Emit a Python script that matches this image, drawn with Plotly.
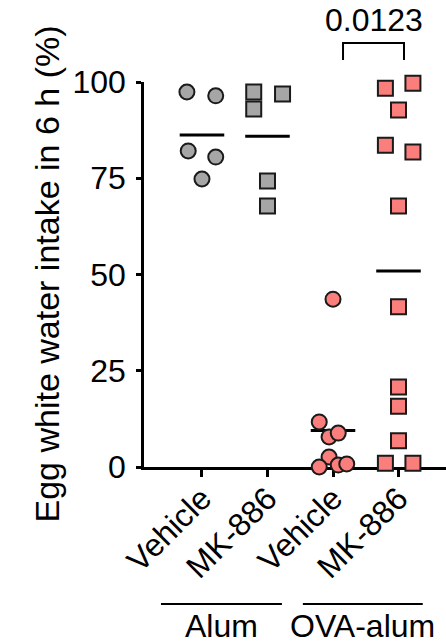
import numpy as np
import plotly.graph_objects as go

# ---- data ----
categories = ["Vehicle", "MK-886", "Vehicle", "MK-886"]
groups = ["Alum", "OVA-alum"]

alum_vehicle = [97.4, 96.4, 82.1, 80.5, 74.8]
alum_vehicle_jitter = [-0.23, 0.21, -0.21, 0.21, 0.0]

alum_mk886 = [97.4, 96.9, 93.0, 74.3, 67.8]
alum_mk886_jitter = [-0.21, 0.23, -0.21, 0.0, 0.0]

ova_vehicle = [43.6, 11.7, 7.8, 8.8, 2.6, 0.0, 0.5, 0.8]
ova_vehicle_jitter = [0.0, -0.21, -0.06, 0.08, -0.06, -0.21, 0.08, 0.21]

ova_mk886 = [98.4, 99.7, 92.7, 83.6, 81.8, 67.8, 41.6, 20.8, 15.8, 6.8, 1.0, 1.0]
ova_mk886_jitter = [-0.2, 0.22, 0.0, -0.2, 0.22, 0.0, 0.0, 0.0, 0.0, 0.0, -0.2, 0.22]

p_value_text = "0.0123"
y_ticks = [0, 25, 50, 75, 100]
y_title = "Egg white water intake in 6 h (%)"

GRAY = "#a6a6a6"
SALMON = "#fa7e7b"
EDGE = "#1a1a1a"
FONT = "Liberation Sans, Arial, Helvetica, sans-serif"
FS = 32
FS_TITLE = 34

series = [
    (alum_vehicle, alum_vehicle_jitter, "circle", GRAY),
    (alum_mk886, alum_mk886_jitter, "square", GRAY),
    (ova_vehicle, ova_vehicle_jitter, "circle", SALMON),
    (ova_mk886, ova_mk886_jitter, "square", SALMON),
]

fig = go.Figure()
half = 0.34
for i, (vals, jit, sym, col) in enumerate(series):
    m = float(np.mean(vals))
    fig.add_trace(go.Scatter(
        x=[i - half, i + half], y=[m, m], mode="lines",
        line=dict(color="black", width=3), showlegend=False,
        hoverinfo="skip", cliponaxis=False))
    fig.add_trace(go.Scatter(
        x=[i + j for j in jit], y=vals, mode="markers",
        marker=dict(symbol=sym, size=15, color=col,
                    line=dict(color=EDGE, width=2)),
        showlegend=False, cliponaxis=False))

fig.update_xaxes(
    tickmode="array", tickvals=list(range(len(categories))),
    ticktext=categories, tickangle=-45,
    range=[-0.885, 3.725], showline=True, linecolor="black", linewidth=3,
    ticks="outside", ticklen=7, tickwidth=3, tickcolor="black",
    showgrid=False, zeroline=False, layer="below traces",
    ticklabelstandoff=-10, automargin=False,
    tickfont=dict(size=FS, family=FONT, color="black"),
)
fig.update_yaxes(
    tickmode="array", tickvals=y_ticks, range=[0, 100],
    showline=True, linecolor="black", linewidth=2.5,
    ticks="outside", ticklen=5, tickwidth=2.5, tickcolor="black",
    showgrid=False, zeroline=False, layer="below traces",
    ticklabelstandoff=4, automargin=False,
    tickfont=dict(size=FS, family=FONT, color="black"),
)

shapes = []
annotations = []
group_spans = [(-0.626, 1.22), (1.54, 3.37)]
for (x0, x1), g in zip(group_spans, groups):
    shapes.append(dict(type="line", xref="x", yref="paper", x0=x0, x1=x1,
                       y0=-0.356, y1=-0.356, line=dict(color="black", width=2)))
    annotations.append(dict(text=g, xref="x", yref="paper", x=(x0 + x1) / 2,
                            y=-0.414, showarrow=False, yanchor="middle",
                            font=dict(size=FS, family=FONT, color="black")))

bx0, bx1 = 2.153, 3.084
shapes.append(dict(type="path", xref="x", yref="paper",
                   path=f"M {bx0},1.057 L {bx0},1.101 L {bx1},1.101 L {bx1},1.057",
                   line=dict(color="black", width=2)))
annotations.append(dict(text=p_value_text, xref="x", yref="paper",
                        x=(bx0 + bx1) / 2, y=1.16, showarrow=False,
                        yanchor="middle",
                        font=dict(size=FS, family=FONT, color="black")))

annotations.append(dict(text=y_title, xref="paper", yref="paper",
                        x=-0.3245, y=0.5, textangle=-90, showarrow=False,
                        xanchor="center", yanchor="middle",
                        font=dict(size=FS_TITLE, family=FONT, color="black")))

fig.update_layout(
    width=446, height=643, autosize=False,
    margin=dict(l=144, r=0, t=82, b=176, pad=0),
    plot_bgcolor="white", paper_bgcolor="white",
    shapes=shapes, annotations=annotations,
    font=dict(family=FONT, color="black"),
)

fig.write_html("out.html", config={"displayModeBar": False},
               post_script="document.body.style.margin='0';document.body.style.overflow='hidden';")
